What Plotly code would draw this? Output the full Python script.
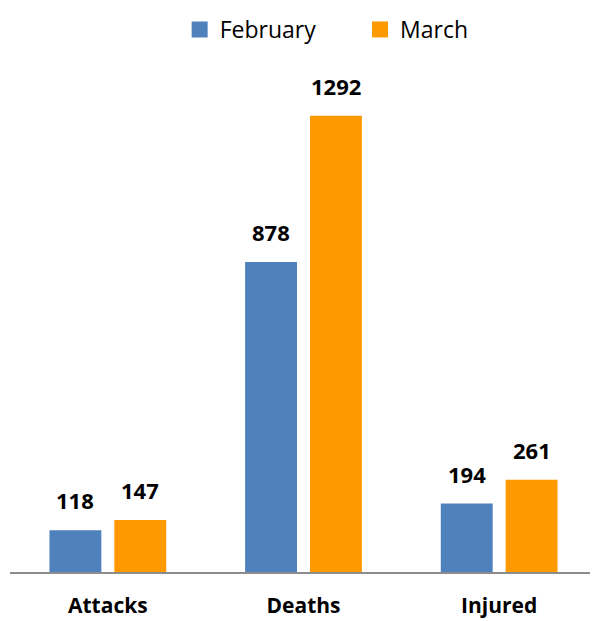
import plotly.graph_objects as go

categories = ["Attacks", "Deaths", "Injured"]
february = [118, 878, 194]
march = [147, 1292, 261]
series_names = ["February", "March"]

BLUE = "#4F81BD"
ORANGE = "#FF9900"
FONT = "'Open Sans', Lato, sans-serif"

fig = go.Figure()
fig.add_bar(name="February", x=categories, y=february, marker_color=BLUE,
            marker_line_width=0, showlegend=False)
fig.add_bar(name="March", x=categories, y=march, marker_color=ORANGE,
            marker_line_width=0, showlegend=False)
# legend entries with larger square swatches, one legend box each
for name, col, lg in zip(series_names, (BLUE, ORANGE), ("legend", "legend2")):
    fig.add_scatter(x=[None], y=[None], mode="markers", name=name, legend=lg,
                    marker=dict(symbol="square", size=16, color=col))

annotations = []
for vals, shift in ((february, -32.5), (march, 32.5)):
    for c, v in zip(categories, vals):
        annotations.append(dict(x=c, y=v, xref="x", yref="y", text=f"<b>{v}</b>",
                                showarrow=False, xshift=shift, yshift=13, yanchor="bottom",
                                font=dict(size=22, color="#000000", family=FONT)))

legend_common = dict(orientation="h", xanchor="left", y=1.0, yref="container",
                     yanchor="top", font=dict(size=23), itemwidth=30,
                     bgcolor="rgba(0,0,0,0)")

fig.update_layout(
    width=598, height=621,
    margin=dict(l=2, r=9, t=52, b=57),
    paper_bgcolor="white", plot_bgcolor="white",
    barmode="group", bargap=0.337, bargroupgap=0.2,
    font=dict(family=FONT, size=20, color="#000000"),
    showlegend=True,
    legend=dict(x=0.289, **legend_common),
    legend2=dict(x=0.5963, **legend_common),
    annotations=annotations,
)
fig.update_xaxes(showline=True, linecolor="#8C8C8C", linewidth=2, ticks="",
                 tickfont=dict(size=21, family=FONT), ticklabelstandoff=14,
                 tickprefix="<b>", ticksuffix="</b>")
fig.update_yaxes(range=[0, 1450], visible=False, showgrid=False, zeroline=False)

fig.write_html("out.html")
